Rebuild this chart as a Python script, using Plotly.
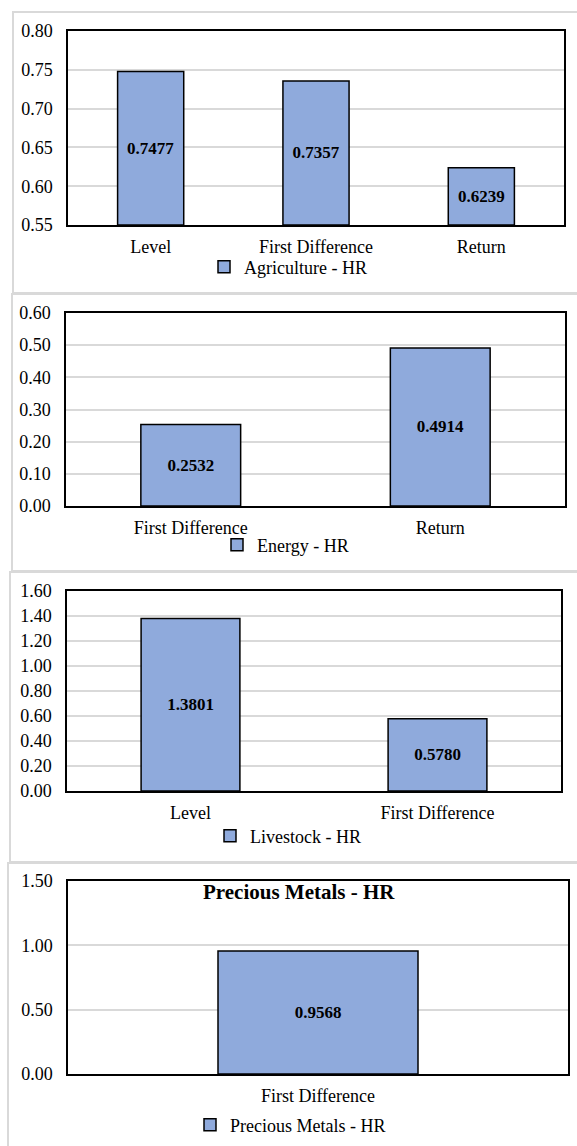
import plotly.graph_objects as go

# ---- data ----
agri_cats = ["Level", "First Difference", "Return"]
agri_vals = [0.7477, 0.7357, 0.6239]
energy_cats = ["First Difference", "Return"]
energy_vals = [0.2532, 0.4914]
live_cats = ["Level", "First Difference"]
live_vals = [1.3801, 0.5780]
metal_cats = ["First Difference"]
metal_vals = [0.9568]
series_names = ["Agriculture - HR", "Energy - HR", "Livestock - HR", "Precious Metals - HR"]
panel_title_4 = "Precious Metals - HR"

W, H = 577, 1146
FONT = "Liberation Serif, Times New Roman, serif"
BAR = "#8faadc"
GRID = "#d9d9d9"
PANEL = "#d9d9d9"

def px(x):
    return x / W

def py(y):
    return 1 - y / H

panels = [
    # cats, vals, plot (l, r, top, bottom), yrange, dtick, legend (left x, center y)
    (agri_cats, agri_vals, (68, 564, 31, 225), [0.55, 0.80], 0.05, (204, 267)),
    (energy_cats, energy_vals, (66, 565, 313, 506), [0, 0.60], 0.10, (217, 545)),
    (live_cats, live_vals, (67, 561, 591, 791), [0, 1.60], 0.20, (210, 836)),
    (metal_cats, metal_vals, (68, 568, 881, 1074), [0, 1.50], 0.50, (190, 1125)),
]

fig = go.Figure()
layout = dict(
    width=W, height=H,
    margin=dict(l=0, r=0, t=0, b=0, autoexpand=False),
    paper_bgcolor="white", plot_bgcolor="white",
    bargap=0.6,
    font=dict(family=FONT, size=18, color="black"),
    hovermode=False,
)

for i, (cats, vals, (l, r, t, b), yr, dt, (lx, ly)) in enumerate(panels):
    n = "" if i == 0 else str(i + 1)
    lg = "legend" + n
    base = yr[0]
    fig.add_trace(go.Bar(
        x=cats, y=[v - base for v in vals], base=base, customdata=vals,
        name=series_names[i],
        xaxis="x" + n, yaxis="y" + n, legend=lg,
        marker=dict(color=BAR, line=dict(color="black", width=1.5)),
        texttemplate="<b>%{customdata:.4f}</b>", textposition="inside",
        insidetextanchor="middle", textangle=0, constraintext="none",
        insidetextfont=dict(family=FONT, size=17, color="black"),
        showlegend=True,
    ))
    layout["xaxis" + n] = dict(
        domain=[px(l), px(r)], anchor="y" + n, automargin=False,
        showline=True, mirror=True, linecolor="black", linewidth=1.5,
        ticks="", ticklabelstandoff=5, showgrid=False,
        tickfont=dict(family=FONT, size=18, color="black"), fixedrange=True,
    )
    layout["yaxis" + n] = dict(
        domain=[py(b), py(t)], anchor="x" + n, range=yr, dtick=dt, tick0=0,
        automargin=False,
        tickformat=".2f", showline=True, mirror=True, linecolor="black", linewidth=1.5,
        showgrid=True, gridcolor=GRID, gridwidth=1.5, zeroline=False,
        ticks="", ticklabelstandoff=10,
        tickfont=dict(family=FONT, size=18, color="black"), fixedrange=True,
    )
    layout[lg] = dict(
        x=px(lx), y=py(ly), xanchor="left", yanchor="middle",
        orientation="h", bgcolor="rgba(0,0,0,0)",
        font=dict(family=FONT, size=18, color="black"),
    )

# panel borders
borders = [(13, 12, 293), (12, 294, 571), (10, 572, 862), (8, 863, 1150)]
shapes = []
for (x0, top, bot) in borders:
    shapes.append(dict(type="rect", xref="paper", yref="paper",
                       x0=px(x0), x1=1.02, y0=py(bot), y1=py(top),
                       line=dict(color=PANEL, width=2), layer="below"))
layout["shapes"] = shapes

layout["annotations"] = [dict(
    text="<b>" + panel_title_4 + "</b>", xref="paper", yref="paper",
    x=px(299), y=py(892), xanchor="center", yanchor="middle", showarrow=False,
    font=dict(family=FONT, size=21, color="black"),
)]

fig.update_layout(**layout)
fig.write_html("out.html", config={"displayModeBar": False},
               post_script="document.body.style.margin='0';")
